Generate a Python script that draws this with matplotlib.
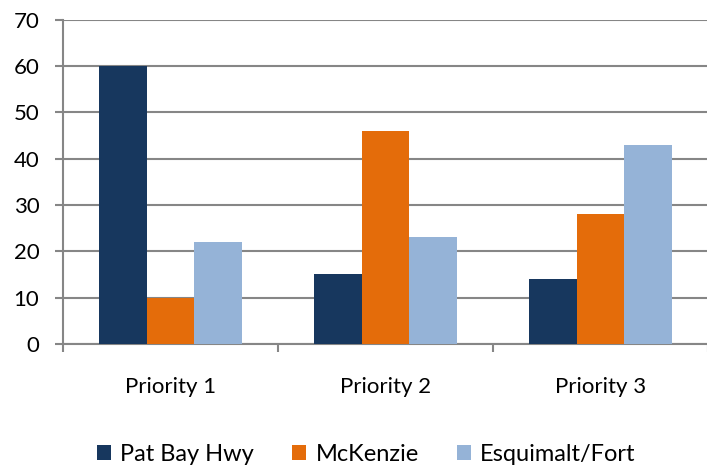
import matplotlib
matplotlib.use('Agg')
import matplotlib.pyplot as plt
from matplotlib.patches import Patch
import numpy as np

categories = ['Priority 1', 'Priority 2', 'Priority 3']
series_names = ['Pat Bay Hwy', 'McKenzie', 'Esquimalt/Fort']
pat_bay = [60, 15, 14]
mckenzie = [10, 46, 28]
esquimalt = [22, 23, 43]
y_ticks = [0, 10, 20, 30, 40, 50, 60, 70]

plt.rcParams['font.family'] = ['Lato', 'DejaVu Sans']
colors = ['#17375E', '#E46C0A', '#95B3D7']
axis_color = '#868686'
fs = 16

fig = plt.figure(figsize=(7.07, 4.69), dpi=100)
ax = fig.add_axes([63 / 707, 125 / 469, 645 / 707, 324.5 / 469])

x = np.arange(len(categories)) + 0.5
w = 1 / 4.5
for i, vals in enumerate([pat_bay, mckenzie, esquimalt]):
    ax.bar(x + (i - 1) * w, vals, width=w, color=colors[i], zorder=3)

ax.set_xlim(0, 3)
ax.set_ylim(0, 70)
ax.set_yticks(y_ticks)
ax.yaxis.grid(True, color=axis_color, linewidth=1.5, zorder=0)

ax.set_xticks([0, 1, 2, 3], minor=False)
ax.set_xticklabels([])
ax.set_xticks(x, minor=True)
ax.set_xticklabels(categories, minor=True, fontsize=fs)
ax.tick_params(axis='x', which='major', length=6, width=1.5, color=axis_color, direction='out')
ax.tick_params(axis='x', which='minor', length=0, pad=24)
ax.tick_params(axis='y', length=6, width=1.5, color=axis_color, labelsize=fs, pad=11)

for s in ['top', 'right']:
    ax.spines[s].set_visible(False)
for s in ['left', 'bottom']:
    ax.spines[s].set_color(axis_color)
    ax.spines[s].set_linewidth(1.5)

handles = [Patch(facecolor=c) for c in colors]
fig.legend(handles, series_names, loc='center', bbox_to_anchor=(0.518, 1 - 454 / 469),
           ncol=3, frameon=False, fontsize=fs + 1, handlelength=0.6, handleheight=0.6,
           handletextpad=0.4, columnspacing=1.6)

fig.savefig('out.png', dpi=100)
